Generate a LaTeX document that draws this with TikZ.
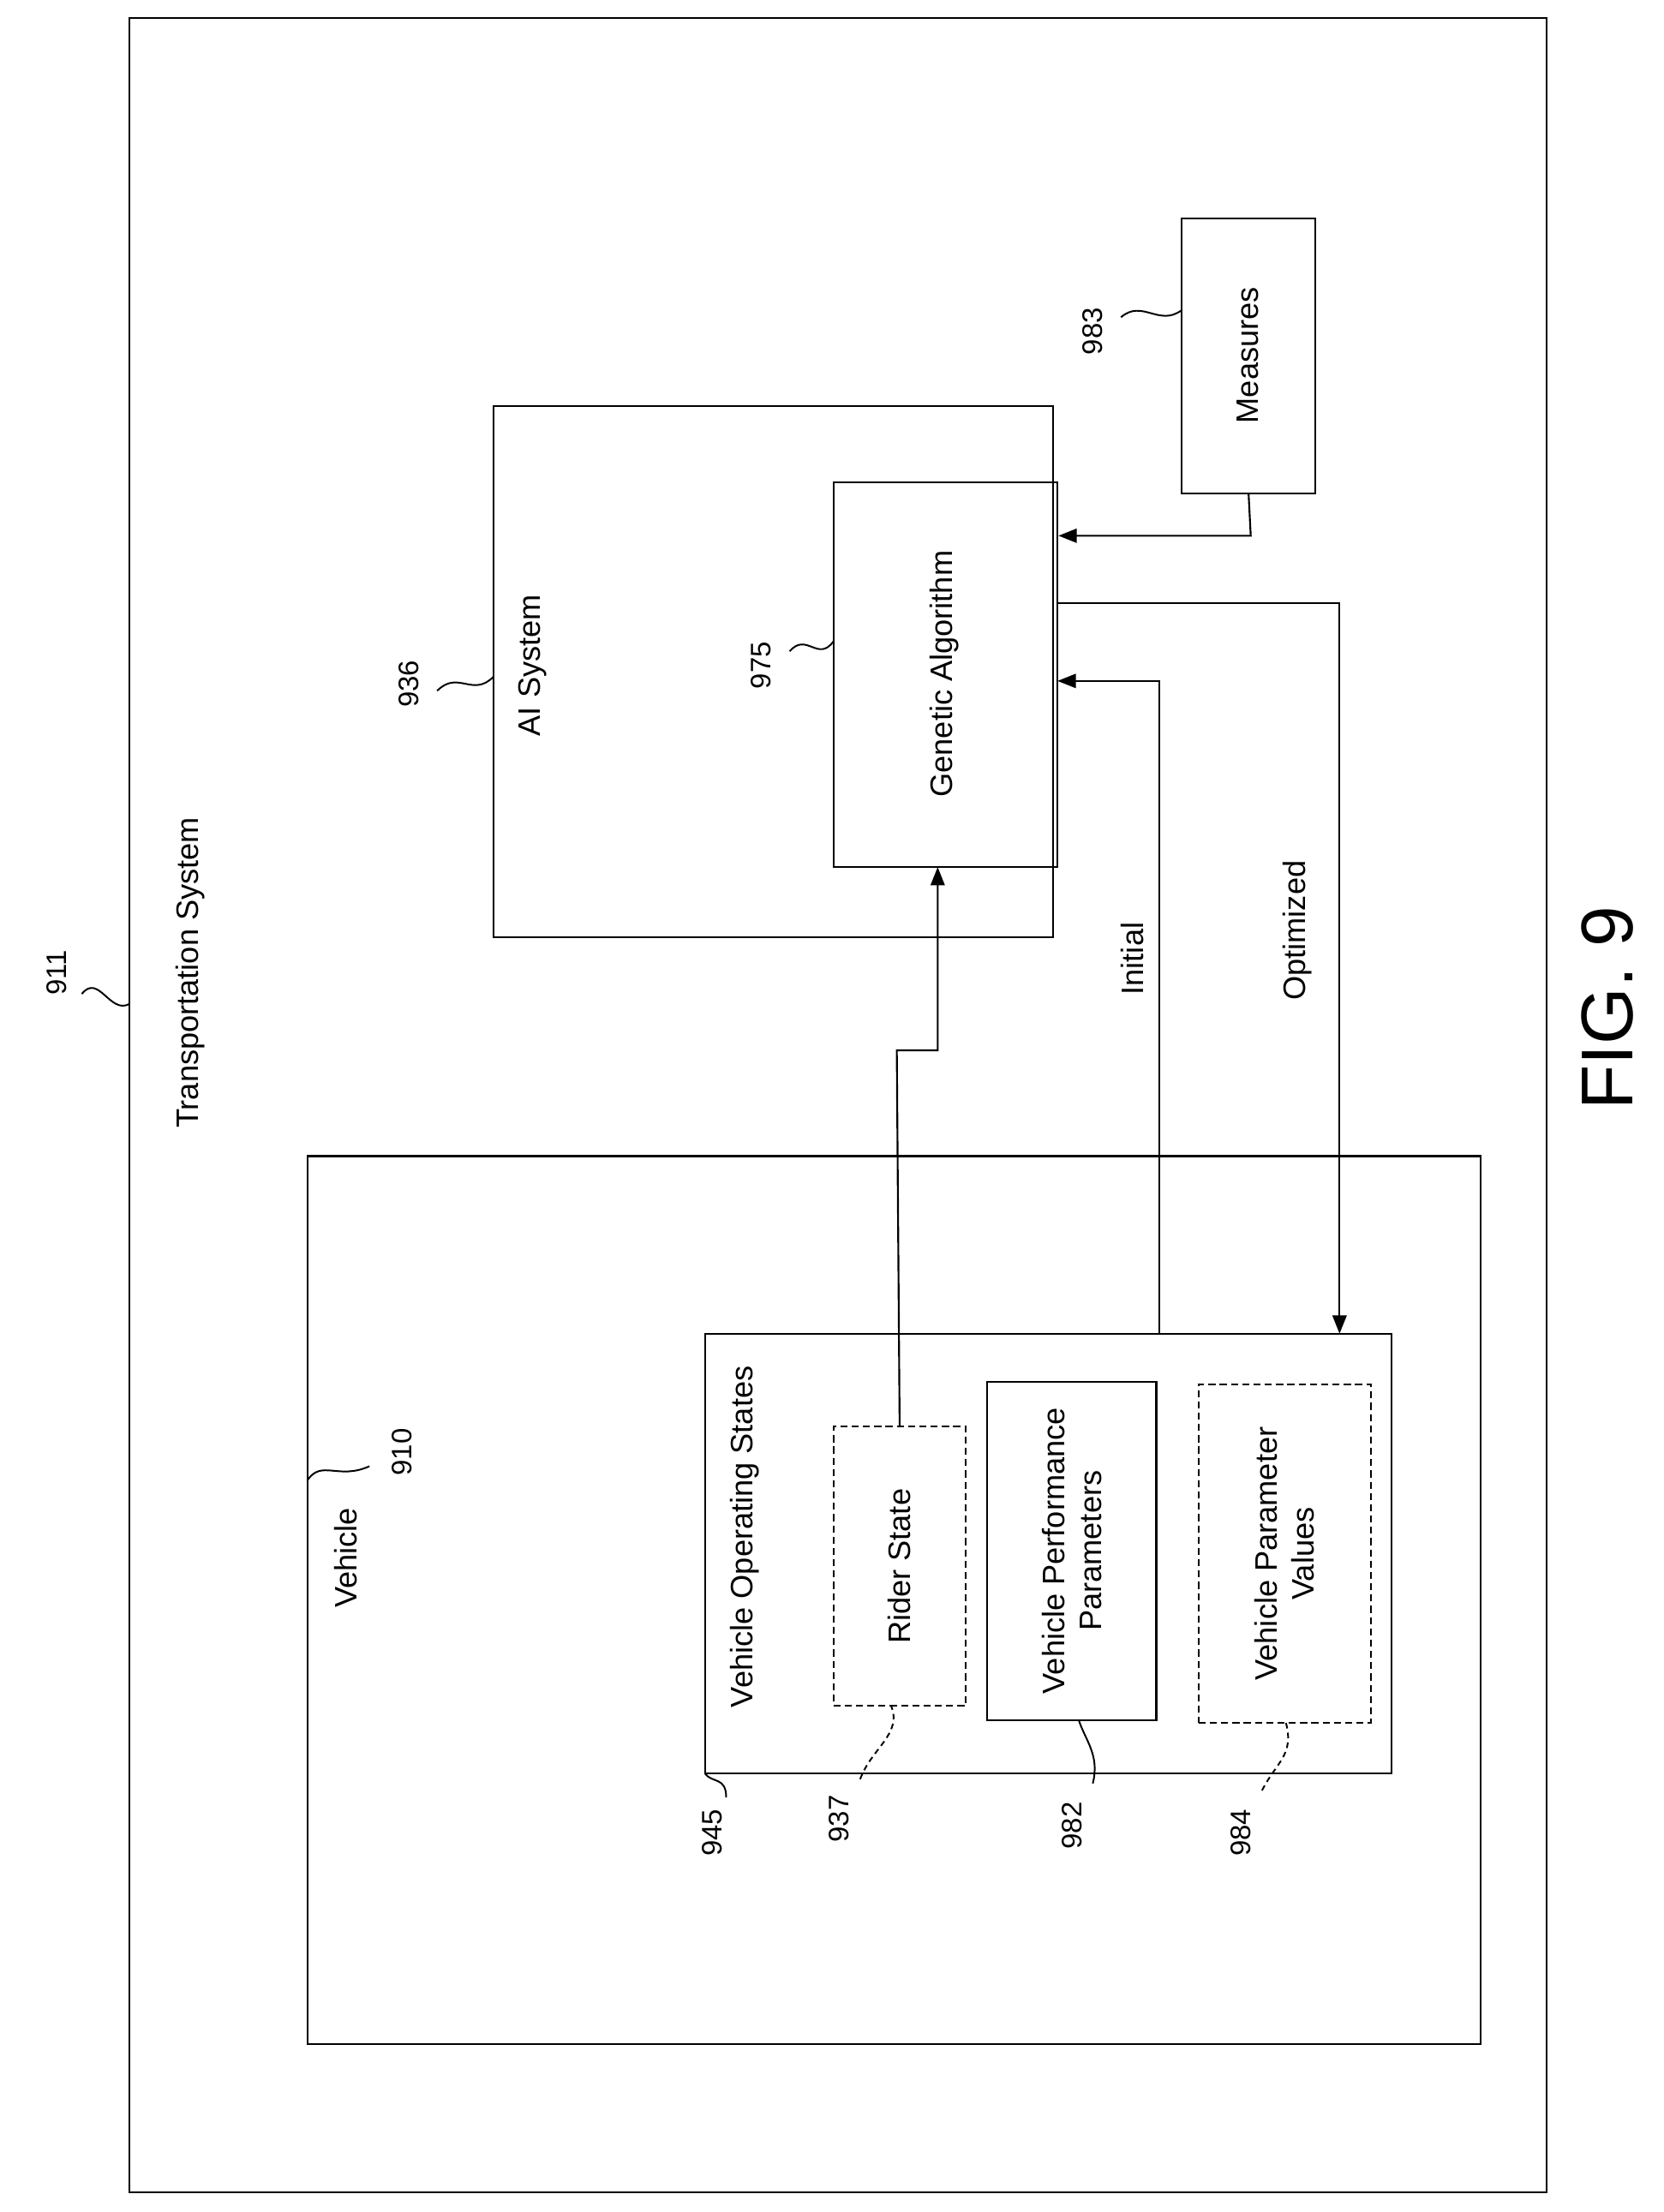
\documentclass[tikz,border=0pt]{standalone}
\usepackage{fontspec}
\setmainfont{Liberation Sans}
\usetikzlibrary{arrows.meta}
\begin{document}
\begin{tikzpicture}[x=1pt,y=-1pt,
  box/.style={draw,line width=1.3pt},
  dbox/.style={draw,line width=1.3pt,dash pattern=on 5pt off 3pt},
  lab/.style={rotate=90,font=\fontsize{22}{26}\selectfont,align=center},
  num/.style={rotate=90,font=\fontsize{20}{24}\selectfont},
  ld/.style={line width=1.2pt},
  arr/.style={line width=1.3pt,-{Triangle[length=13pt,width=10pt]}}]
\useasboundingbox (0,0) rectangle (1180,1569);
% outer
\draw[box] (92,13) rectangle (1097,1555);
\node[num] (n911) at (40,690) {911};
\draw[ld] (58,705) .. controls (70,690) and (78,720) .. (92,712);
\node[lab] (ts) at (135,690) {Transportation System};
% vehicle
\draw[box] (218,820) rectangle (1050,1450);
\node[lab] (veh) at (245,1105) {Vehicle};
\node[num] (n910) at (285,1030) {910};
\draw[ld] (218,1050) .. controls (228,1035) and (240,1050) .. (262,1040);
% VOS
\node[box,minimum width=487pt,minimum height=312pt,inner sep=0] (vos) at (743.5,1102) {};
\node[lab] at (528,1090) {Vehicle Operating States};
\node[num] (n945) at (505,1300) {945};
\draw[ld] (515,1275) .. controls (515,1260) and (505,1265) .. (500,1258);
% Rider state
\node[dbox,minimum width=94pt,minimum height=198pt,inner sep=0] (rider) at (638,1111) {};
\node[lab] at (638,1111) {Rider State};
\node[num] (n937) at (595,1290) {937};
\draw[ld,dash pattern=on 4pt off 3pt] (610,1262) .. controls (618,1240) and (640,1230) .. (632,1210);
% VPP
\node[box,minimum width=120pt,minimum height=240pt,inner sep=0] (vpp) at (760,1100) {};
\node[lab] at (760,1100) {Vehicle Performance\\Parameters};
\node[num] (n982) at (760,1295) {982};
\draw[ld] (775,1265) .. controls (780,1245) and (770,1235) .. (765,1220);
% VPV
\node[dbox,minimum width=122pt,minimum height=240pt,inner sep=0] (vpv) at (911,1102) {};
\node[lab] at (911,1102) {Vehicle Parameter\\Values};
\node[num] (n984) at (880,1300) {984};
\draw[ld,dash pattern=on 4pt off 3pt] (895,1270) .. controls (905,1250) and (918,1245) .. (912,1222);
% AI
\draw[box] (350,288) rectangle (747,665);
\node[lab] (ai) at (378,472) {AI System};
\node[num] (n936) at (290,485) {936};
\draw[ld] (310,490) .. controls (325,475) and (335,495) .. (350,480);
% GA
\node[box,minimum width=159pt,minimum height=273pt,inner sep=0] (ga) at (670.5,478.5) {};
\node[lab] at (670,478) {Genetic Algorithm};
\node[num] (n975) at (540,472) {975};
\draw[ld] (560,462) .. controls (572,448) and (580,470) .. (591,455);
% Measures
\node[box,minimum width=95pt,minimum height=195pt,inner sep=0] (meas) at (885.5,252.5) {};
\node[lab] at (885,252) {Measures};
\node[num] (n983) at (775,235) {983};
\draw[ld] (795,225) .. controls (810,212) and (822,232) .. (838,220);
% arrows
\draw[arr] (meas.south) -- (887,380) -- (ga.east |- 0,380);
\draw[arr] (rider.north) -- (636,745) -- (665,745) -- (665,615);
\draw[arr] (822,946) -- (822,483) -- (750,483);
\draw[arr] (750,428) -- (950,428) -- (950,946);
\node[lab] at (803,680) {Initial};
\node[lab] at (920,660) {Optimized};
\node[rotate=90,font=\fontsize{52}{60}\selectfont] (fig) at (1140,715) {FIG. 9};
\end{tikzpicture}
\end{document}
